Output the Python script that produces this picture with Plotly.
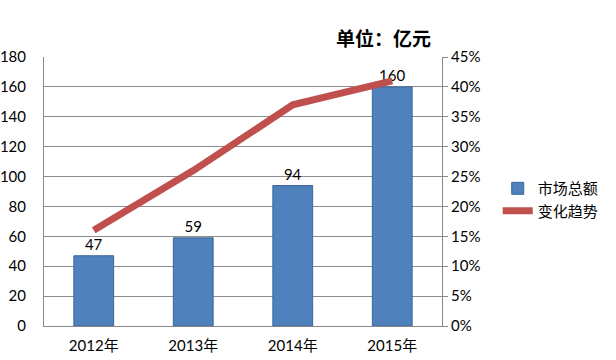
import plotly.graph_objects as go

years = ["2012年", "2013年", "2014年", "2015年"]
market_total = [47, 59, 94, 160]
trend_pct = [0.16, 0.26, 0.37, 0.41]

font_family = "Lato, 'Noto Sans CJK SC', sans-serif"

fig = go.Figure()
fig.add_trace(go.Bar(
    x=years, y=market_total, name="市场总额",
    marker=dict(color="#4F81BD", line=dict(color="#3B6699", width=1)),
    text=[str(v) for v in market_total], textposition="outside",
    textfont=dict(size=15, color="#000000", family=font_family),
    cliponaxis=False,
))
fig.add_trace(go.Scatter(
    x=years, y=trend_pct, name="变化趋势", yaxis="y2", mode="lines",
    line=dict(color="#C0504D", width=7),
))

fig.update_layout(
    width=616, height=360,
    margin=dict(l=44, r=171, t=57, b=34),
    paper_bgcolor="white", plot_bgcolor="white",
    font=dict(family=font_family, size=15, color="#000000"),
    bargap=0.6,
    showlegend=True,
    legend=dict(x=1.14, y=0.47, xanchor="left", yanchor="middle",
                font=dict(size=15), bgcolor="rgba(0,0,0,0)", tracegroupgap=4),
    xaxis=dict(showgrid=False, showline=True, linecolor="#888888", linewidth=1,
               ticks="", tickfont=dict(size=15), ticklabelstandoff=6,
               automargin=False),
    yaxis=dict(range=[0, 180], dtick=20, showgrid=True, gridcolor="#8C8C8C",
               gridwidth=1, showline=True, linecolor="#888888", zeroline=False,
               ticks="", ticklabelstandoff=14, tickfont=dict(size=15),
               automargin=False),
    yaxis2=dict(range=[0, 0.45], dtick=0.05, tickformat=".0%", overlaying="y",
                side="right", showgrid=False, showline=True, linecolor="#888888",
                ticks="outside", ticklen=5, tickcolor="#888888", zeroline=False,
                tickfont=dict(size=15), automargin=False),
    annotations=[dict(text="<b>单位：亿元</b>", xref="paper", yref="paper",
                      x=(386 - 44) / 401, y=(326 - 38) / 269,
                      xanchor="center", yanchor="middle",
                      showarrow=False, font=dict(size=19, color="#000000"))],
)

fig.write_html(
    "out.html",
    config={"displayModeBar": False},
    post_script="document.body.style.margin='0px';document.body.style.overflow='hidden';",
)
